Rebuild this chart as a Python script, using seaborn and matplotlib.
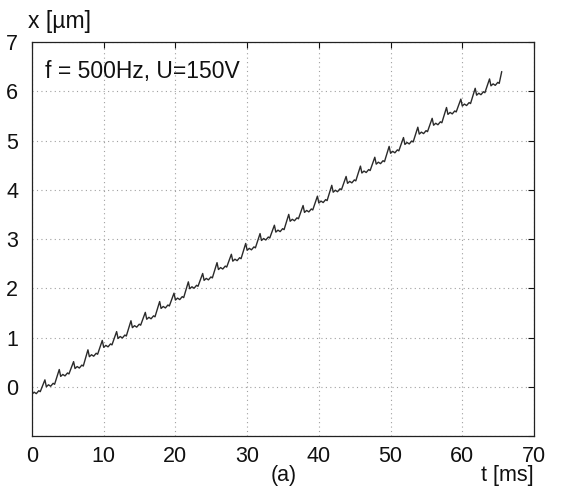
import numpy as np
import pandas as pd
import matplotlib
matplotlib.use("Agg")
import matplotlib.pyplot as plt
import seaborn as sns

# ---- data (t in ms, x in µm) ----
cycle_start = [0.0, 2.0, 4.0, 6.0, 8.0, 10.0, 12.0, 14.0, 16.0, 18.0, 20.0,
               22.0, 24.0, 26.0, 28.0, 30.0, 32.0, 34.0, 36.0, 38.0, 40.0,
               42.0, 44.0, 46.0, 48.0, 50.0, 52.0, 54.0, 56.0, 58.0, 60.0,
               62.0, 64.0]
trough = [-0.15, 0.00, 0.21, 0.37, 0.61, 0.80, 0.98, 1.20, 1.37, 1.59, 1.76,
          1.99, 2.16, 2.38, 2.55, 2.77, 2.97, 3.14, 3.36, 3.54, 3.73, 3.95,
          4.13, 4.34, 4.52, 4.74, 4.92, 5.13, 5.31, 5.53, 5.70, 5.92, 6.11]
noise1 = [-0.11, 0.04, 0.25, 0.41, 0.65, 0.84, 1.02, 1.24, 1.41, 1.63, 1.80,
          2.03, 2.20, 2.42, 2.59, 2.81, 3.01, 3.18, 3.40, 3.58, 3.77, 3.99,
          4.17, 4.38, 4.56, 4.78, 4.96, 5.17, 5.35, 5.57, 5.74, 5.96, 6.15]
noise2 = [-0.14, 0.01, 0.22, 0.38, 0.62, 0.81, 0.99, 1.21, 1.38, 1.60, 1.77,
          2.00, 2.17, 2.39, 2.56, 2.78, 2.98, 3.15, 3.37, 3.55, 3.74, 3.96,
          4.14, 4.35, 4.53, 4.75, 4.93, 5.14, 5.32, 5.54, 5.71, 5.93, 6.12]
shoulder = [-0.08, 0.07, 0.28, 0.44, 0.68, 0.87, 1.05, 1.27, 1.44, 1.66, 1.83,
            2.06, 2.23, 2.45, 2.62, 2.84, 3.04, 3.21, 3.43, 3.61, 3.80, 4.02,
            4.20, 4.41, 4.59, 4.81, 4.99, 5.20, 5.38, 5.60, 5.77, 5.99, 6.18]
dip = [-0.10, 0.05, 0.26, 0.42, 0.66, 0.85, 1.03, 1.25, 1.42, 1.64, 1.81,
       2.04, 2.21, 2.43, 2.60, 2.82, 3.02, 3.19, 3.41, 3.59, 3.78, 4.00,
       4.18, 4.39, 4.57, 4.79, 4.97, 5.18, 5.36, 5.58, 5.75, 5.97, 6.16]
peak = [0.14, 0.35, 0.51, 0.75, 0.94, 1.12, 1.34, 1.51, 1.73, 1.90, 2.13,
        2.30, 2.52, 2.69, 2.91, 3.11, 3.28, 3.50, 3.68, 3.87, 4.09, 4.27,
        4.48, 4.66, 4.88, 5.06, 5.27, 5.45, 5.67, 5.84, 6.06, 6.25]
end_t = 65.5
end_x = 6.40

x_ticks = [0, 10, 20, 30, 40, 50, 60, 70]
y_ticks = [-1, 0, 1, 2, 3, 4, 5, 6, 7]
y_ticklabels = ["", "0", "1", "2", "3", "4", "5", "6", "7"]
annotation = "f = 500Hz, U=150V"

# ---- build the trace ----
offs = [0.0, 0.3, 0.6, 0.95, 1.15, 1.8]
t_vals, x_vals = [], []
for k, t0 in enumerate(cycle_start):
    vals = [trough[k], noise1[k], noise2[k], shoulder[k], dip[k]]
    if k < len(peak):
        vals.append(peak[k])
    for o, v in zip(offs, vals):
        t_vals.append(t0 + o)
        x_vals.append(v)
t_vals.append(end_t)
x_vals.append(end_x)
df = pd.DataFrame({"t": t_vals, "x": x_vals})

sns.set_style("white")
plt.rcParams["font.family"] = ["Liberation Sans", "DejaVu Sans"]

fig = plt.figure(figsize=(5.61, 4.86), dpi=100)
ax = fig.add_axes([32 / 561, 1 - 436 / 486, (534 - 32) / 561, (436 - 42) / 486])

sns.lineplot(data=df, x="t", y="x", ax=ax, sort=False, estimator=None,
             color="#2a2a2a", linewidth=1.0)

ax.set_xlim(0, 70)
ax.set_ylim(-1, 7)
ax.set_xticks(x_ticks)
ax.set_yticks(y_ticks)
ax.set_yticklabels(y_ticklabels)
ax.set_xlabel("")
ax.set_ylabel("")
ax.grid(True, linestyle=(0, (1, 3)), color="#a0a0a0", linewidth=0.8)
for s in ax.spines.values():
    s.set_visible(True)
    s.set_color("#222222")
    s.set_linewidth(0.9)
ax.tick_params(direction="in", length=4, width=0.8, top=True, right=True,
               labelsize=15.5, colors="#111111")
ax.tick_params(axis="y", pad=10)
ax.tick_params(axis="x", pad=7)

ax.text(0.026, 0.955, annotation, transform=ax.transAxes, fontsize=16.5,
        ha="left", va="top", color="#111111")
fig.text(28 / 561, 1 - 10 / 486, "x [µm]", fontsize=16.5, ha="left", va="top",
         color="#111111")
fig.text(534 / 561, 1 - 486 / 486, "t [ms]", fontsize=15.5, ha="right",
         va="bottom", color="#111111")
fig.text(284 / 561, 1 - 486 / 486, "(a)", fontsize=15.5, ha="center",
         va="bottom", color="#111111")

fig.savefig("out.png", dpi=100)
